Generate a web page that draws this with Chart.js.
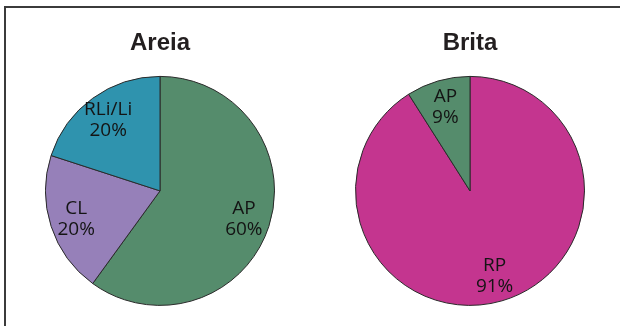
<!DOCTYPE html>
<html>
<head>
<meta charset="utf-8">
<script src="https://cdn.jsdelivr.net/npm/chart.js@4"></script>
<style>
  html, body { margin: 0; padding: 0; background: #fff; }
  #frame {
    position: relative;
    width: 620px;
    height: 326px;
    overflow: hidden;
  }
  #frame::before {
    content: "";
    position: absolute;
    left: 4px; top: 6px; right: -4px; bottom: -4px;
    border-top: 2px solid #3b3b3b;
    border-left: 2px solid #3b3b3b;
  }
  .pie { position: absolute; top: 20px; width: 230px; height: 286px; }
  #areia { left: 45px; }
  #brita { left: 355px; }
</style>
</head>
<body>
<div id="frame">
  <canvas id="areia" class="pie" width="230" height="286"></canvas>
  <canvas id="brita" class="pie" width="230" height="286"></canvas>
</div>
<script>
// Areia
const areiaLabels = ['AP', 'CL', 'RLi/Li'];
const areiaValues = [60, 20, 20];
const areiaColors = ['#558c6c', '#9680b9', '#2f93ae'];

// Brita
const britaLabels = ['RP', 'AP'];
const britaValues = [91, 9];
const britaColors = ['#c4358f', '#558c6c'];

// writes "name / xx%" inside each slice
const sliceLabels = {
  id: 'sliceLabels',
  afterDatasetsDraw(chart) {
    const ctx = chart.ctx;
    const meta = chart.getDatasetMeta(0);
    const values = chart.data.datasets[0].data;
    ctx.save();
    ctx.fillStyle = '#141414';
    ctx.font = '19px "Open Sans"';
    ctx.textAlign = 'center';
    ctx.textBaseline = 'middle';
    meta.data.forEach(function (arc, i) {
      const mid = (arc.startAngle + arc.endAngle) / 2;
      const r = arc.outerRadius * 0.77;
      const x = arc.x + Math.cos(mid) * r;
      const y = arc.y + Math.sin(mid) * r;
      ctx.fillText(chart.data.labels[i], x, y - 10);
      ctx.fillText(values[i] + '%', x, y + 11);
    });
    ctx.restore();
  }
};

function makePie(id, title, labels, values, colors) {
  const ctx = document.getElementById(id).getContext('2d');
  return new Chart(ctx, {
    type: 'pie',
    data: {
      labels: labels,
      datasets: [{
        data: values,
        backgroundColor: colors,
        borderColor: '#2a2a2a',
        borderWidth: 1
      }]
    },
    options: {
      responsive: false,
      animation: false,
      layout: { padding: 0 },
      plugins: {
        legend: { display: false },
        tooltip: { enabled: false },
        title: {
          display: true,
          text: title,
          color: '#231f20',
          font: { family: '"Liberation Sans", Arial, sans-serif', size: 24, weight: 'bold', lineHeight: 1.2 },
          padding: { top: 9, bottom: 18 }
        }
      }
    },
    plugins: [sliceLabels]
  });
}

makePie('areia', 'Areia', areiaLabels, areiaValues, areiaColors);
makePie('brita', 'Brita', britaLabels, britaValues, britaColors);
</script>
</body>
</html>
